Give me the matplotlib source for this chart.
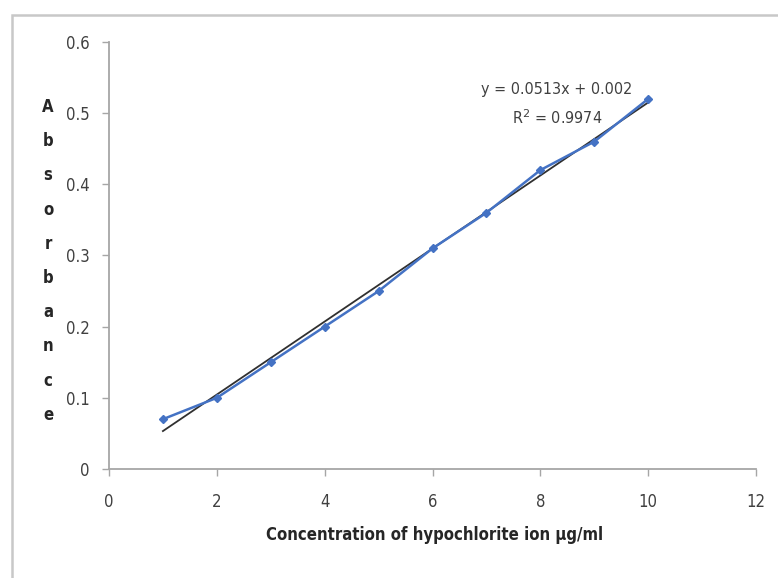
import matplotlib
matplotlib.use("Agg")
import matplotlib.pyplot as plt
from matplotlib.patches import Rectangle
from matplotlib import font_manager
from matplotlib.font_manager import FontProperties
import os

concentration = [1, 2, 3, 4, 5, 6, 7, 8, 9, 10]
absorbance = [0.07, 0.10, 0.15, 0.20, 0.25, 0.31, 0.36, 0.42, 0.46, 0.52]
slope = 0.0513
intercept = 0.002
x_ticks = [0, 2, 4, 6, 8, 10, 12]
y_ticks = [0, 0.1, 0.2, 0.3, 0.4, 0.5, 0.6]
y_tick_labels = ["0", "0.1", "0.2", "0.3", "0.4", "0.5", "0.6"]

files = [f.fname for f in font_manager.fontManager.ttflist]
def find(cands):
    for c in cands:
        for f in files:
            if os.path.basename(f).lower() == c.lower():
                return f
    return None

reg = find(["LiberationSansNarrow-Regular.ttf", "DejaVuSansCondensed.ttf"])
bold = find(["LiberationSansNarrow-Bold.ttf", "DejaVuSansCondensed-Bold.ttf"])
def fp(b=False, size=11):
    f = bold if b else reg
    if f:
        return FontProperties(fname=f, size=size)
    return FontProperties(family="DejaVu Sans", weight="bold" if b else "normal", size=size)

fig = plt.figure(figsize=(7.78, 5.78), dpi=100)
fig.patches.append(Rectangle((12/778, -0.1), 1.2, 1 - 15/578 + 0.1, transform=fig.transFigure,
                             fill=False, edgecolor="#c8c8c8", linewidth=1.8, zorder=0))

ax = fig.add_axes([109/778, 1 - 469/578, (756-109)/778, (469-42)/578])
ax.set_xlim(0, 12)
ax.set_ylim(0, 0.6)

fit = [slope * x + intercept for x in concentration]
ax.plot([concentration[0], concentration[-1]], [fit[0], fit[-1]], color="#303030", lw=1.3, zorder=2)
ax.plot(concentration, absorbance, color="#4472C4", lw=1.8, marker="D", markersize=4.5,
        markerfacecolor="#4472C4", markeredgecolor="#4472C4", zorder=3)

ax.text(8.31, 0.533, "y = 0.0513x + 0.002", fontproperties=fp(False, 11.5), color="#404040",
        ha="center", va="center")
ax.text(8.31, 0.493, "R$^{2}$ = 0.9974", fontproperties=fp(False, 11.5), color="#404040",
        ha="center", va="center")

for s in ["top", "right"]:
    ax.spines[s].set_visible(False)
for s in ["left", "bottom"]:
    ax.spines[s].set_color("#a6a6a6")
    ax.spines[s].set_linewidth(1.3)

ax.set_xticks(x_ticks)
ax.set_xticklabels([str(t) for t in x_ticks])
ax.set_yticks(y_ticks)
ax.set_yticklabels(y_tick_labels)
ax.tick_params(axis="both", direction="out", length=5, width=1.0, color="#a6a6a6",
               labelcolor="#404040")
for lab in ax.get_xticklabels() + ax.get_yticklabels():
    lab.set_fontproperties(fp(False, 12))
ax.tick_params(axis="x", pad=12)
ax.tick_params(axis="y", pad=9)

fig.text(435/778, 1 - 535/578, "Concentration of hypochlorite ion \u00b5g/ml",
         fontproperties=fp(True, 12), color="#262626", ha="center", va="center")

letters = "Absorbance"
for i, ch in enumerate(letters):
    ypix = 107 + i * 34.2
    fig.text(48/778, 1 - ypix/578, ch, fontproperties=fp(True, 12), color="#262626",
             ha="center", va="center")

fig.savefig("out.png", dpi=100, facecolor="white")
